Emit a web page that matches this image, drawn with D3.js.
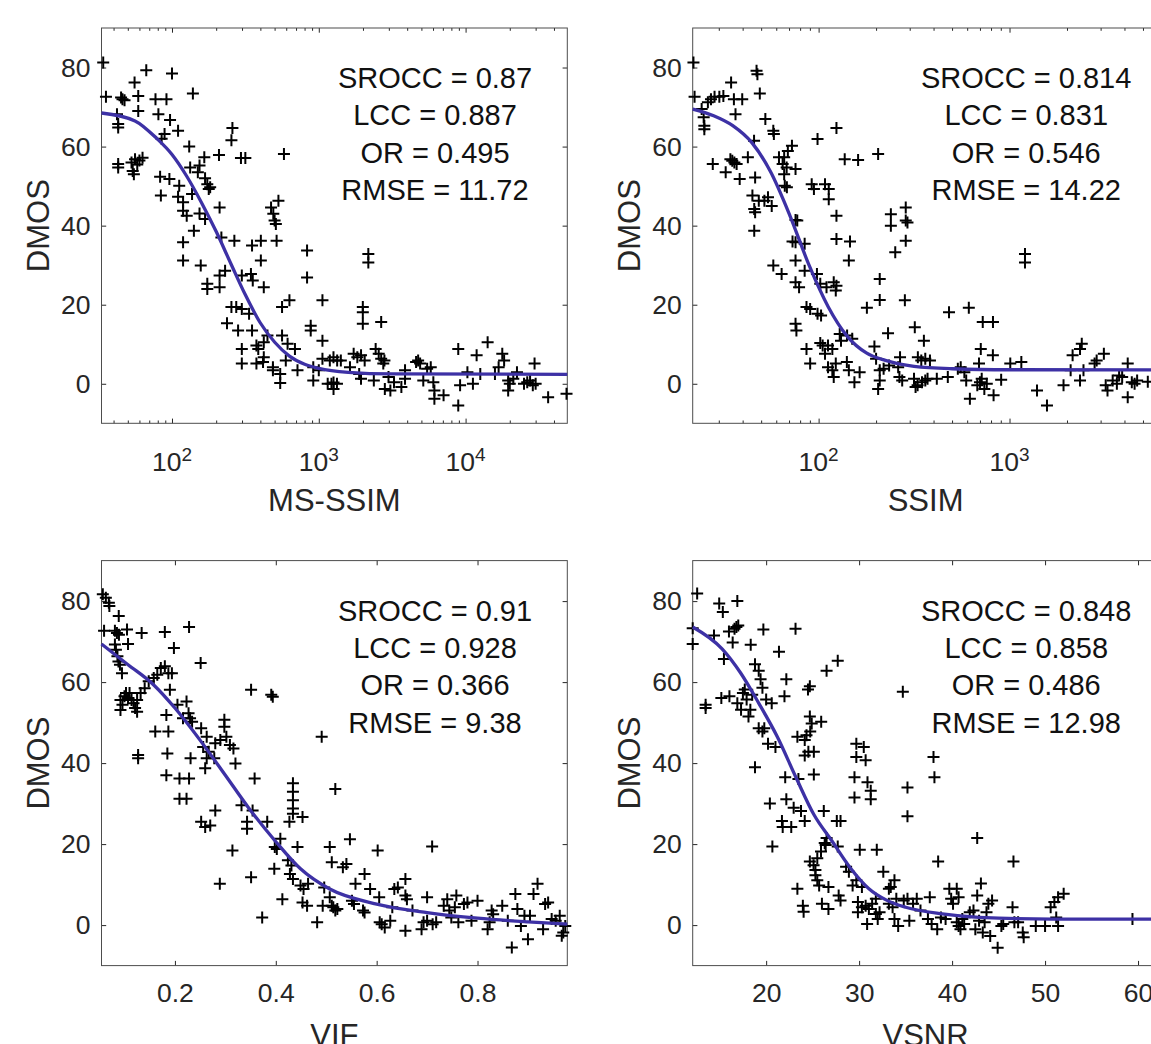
<!DOCTYPE html>
<html><head><meta charset="utf-8">
<script src="https://cdn.jsdelivr.net/npm/d3@7"></script>
<style>body{margin:0;background:#fff}</style>
</head><body>
<svg id="chart" width="1151" height="1044"></svg>
<script>
// ---------------- DATA ----------------
const metricNames = ["MS-SSIM", "SSIM", "VIF", "VSNR"];
const yLabel = "DMOS";
const yTicks = [0, 20, 40, 60, 80];
const statNames = ["SROCC", "LCC", "OR", "RMSE"];
const msssimStats = ["0.87", "0.887", "0.495", "11.72"];
const ssimStats = ["0.814", "0.831", "0.546", "14.22"];
const vifStats = ["0.91", "0.928", "0.366", "9.38"];
const vsnrStats = ["0.848", "0.858", "0.486", "12.98"];

const msssimX = [34,35.5,45,46,47.5,55.6,58.9,66.8,77.2,91.7,100,138.8,42.2,43,43,58.9,80.8,97,89,85,110,131,209,166,258,254,295,316,579,43,43,53,56,58,60,63,55,54,83,96,84,112,110,133,154,150,168,174,178,182,137,119,119,126,154,168,211,141,119,119,157,217,266,351,403,516,403,473,490,500,531,510,174,174,211,211,230,299,345,355,422,254,274,299,335,237,282,351,447,299,376,387,422,299,376,417,422,487,487,546,546,562,613,596,716,688,562,631,832,832,881,881,1059,1059,917,917,1000,1059,1189,1259,1334,1150,1220,1260,1330,1260,1413,1631,1728,1830,1940,2054,1884,1939,1995,1995,1995,2175,2175,2661,2440,2560,2661,2371,2750,2800,2818,3073,3254,2985,3652,3868,3868,4600,4750,4900,5150,5470,5790,6030,6130,6130,7080,8913,8913,9173,10290,11220,11890,14130,12590,15850,17780,18300,16790,19500,19500,20000,21130,22390,25000,26300,27500,28700,29500,30000,36500,48700];
const msssimY = [81.3,72.6,72.4,72,71.7,76.2,72.8,79.3,72,72,78.5,73.4,68.2,65.7,64.8,69,68.2,66.7,63.2,62,64,60,57.9,57.3,64.7,61.6,57.1,57.1,58.1,55.6,54.7,56,56.8,55.5,56.5,57.2,53,53.8,52.4,51.8,47.6,50.1,47.3,54.7,55.2,53.5,52,50.5,49.3,49.7,48,45.9,43.8,42.5,43.1,41.7,44.6,38.7,35.8,31.2,29.9,37,36.2,35,36.2,36.2,31.2,44.6,43,41.3,46.3,40.4,25.3,24,24.4,27.4,28.6,27.4,27.8,26.1,24.4,19.4,19.4,18.9,17.7,15.3,13.5,13.5,12.2,8.8,9.7,8.8,10.5,5.1,5.1,5.5,6.7,4.2,3.4,2.5,0.2,12.2,10.1,5.9,3.4,8.8,19.4,21.1,33.7,26.9,14.7,13.5,21.1,10.9,4.2,0.8,3.4,6.3,5.9,6.7,5.9,0,0,0.3,0,-1.3,5.9,4.2,7.6,6.7,7.2,5.9,2.5,1.3,19.4,18.1,15.2,32.8,30.7,15.6,8.8,7.6,6.3,0.8,5.1,5.9,-1.3,-1.7,0.4,1.7,-0.8,3.4,1.3,5.5,5.9,5.1,0.8,3.8,4.2,0.4,-1.7,-3.8,-2.9,8.8,-5.5,-0.4,2.9,0,7.2,10.5,2.5,2.5,7.6,5.9,4.2,0.8,-1.7,0,1.3,2.9,0,0.4,0.8,-0.4,5.1,0,-3.4,-2.5];
const msssimFitX = [33.1,56,79,100,126,158,200,251,316,398,501,631,794,1000,1585,3162,49300];
const msssimFitY = [68.5,66.5,62,58,52.5,46,38.5,30.5,22.5,15.5,10.5,7,5,3.9,2.9,2.5,2.4];

const ssimX = [22.1,22.4,24.4,25,25.2,25.2,26.3,27.3,28.5,30.2,31.7,34.8,36,39.8,36.7,27.9,32.6,34.5,35.3,36.2,37.2,38.6,42.6,45.9,46.5,47.3,47.8,49.2,52.6,57.9,58.3,45,46,46.5,46,48.6,52,54.3,56.8,62,66,69,72.5,64.8,68,75.7,66,66.5,68.2,57.9,64,75.7,77.3,73,75.7,84.5,75.7,75.7,79,84.5,75.7,76.5,86.4,90.3,98.7,103,86.4,90.3,98,102,110,108,113,113,92,94.5,98.7,124,124,124,120,124,123,137,161,146,144,102,105,112,118,108,112,118,120,123,129,131,141,150,140.6,144,154,164,179,196,200,209,209,205,209,209,219,234,205,231,239,239,252,261,265,274,267,286,286,292,286,283,319,356,316,322,330,331,345,362,383,348,362,372,416,475,482,536,555,580,593,612,620,692,707,678,700,715,738,760,724,819,818,825,904,1009,1153,1205,1205,1393,1571,1918,2090,2140,2340,2390,2340,2440,2790,2860,3120,3190,3260,3470,3650,3750,3890,4160,4160,4370,4520,4660,5300];
const ssimY = [81.3,72.6,69.5,67.4,65.3,64.4,71.2,72,72.6,72.6,72.8,76.2,72,72,68.2,55.6,53.5,56.8,56.4,56,55.6,51.8,57.3,61.5,52.2,79.2,78.3,73.4,67,64,63.2,47.6,44.2,43.4,38.7,46.3,46.3,47.2,45,57.3,57.3,58.9,60.2,55.6,54.7,54.3,53,50.1,49.7,29.9,27.8,41.4,41.3,36,35.8,35.4,31.2,25.7,24.4,28.6,15.2,13.5,19.4,18.9,17.7,17.3,8.8,5.1,27.8,25.3,24.4,50.5,49.3,46.7,50.5,49.3,61.9,64.7,42.5,36.6,25.7,24.8,23.6,56.8,56.6,36,31.2,10.3,9.7,9.7,8.8,7.6,4.2,3.4,1.7,5.1,12.6,10.9,12.2,11.4,5.5,3.4,0.4,2.9,19.2,9.4,6.3,3.4,0.8,-1.3,26.5,21.2,3.8,4.6,58.1,12.8,42.9,40,33.3,4.2,1.7,0.8,6.7,44.6,41.3,40.8,36.2,21.1,14.3,10.9,1.3,-0.8,-0.4,6.7,5.9,6.3,5.9,0.4,0.8,1.3,1.3,1.7,18.1,3.8,4.2,2.9,0.8,19.2,-3.8,5.1,8.8,-0.4,0.4,1.3,-1.3,0,15.6,15.6,7.2,-2.9,1,5.1,5.5,32.8,30.7,-1.7,-5.5,-0.4,3.4,7.2,8.8,10.1,0.8,3.4,5.1,5.9,7.6,-0.4,-1.7,0.8,0,2.1,1.7,5.1,-3.4,0.4,0,0.8,0.5];
const ssimFitX = [21.9,28.2,35.5,44.7,56.2,70.8,89.1,112.2,141.3,177.8,223.9,316.2,501.2,1000,6030];
const ssimFitY = [69.5,67.8,65.3,61,53.5,42.5,30,19.5,12,7.8,5.9,4.4,3.8,3.55,3.5];

const vifX = [0.057,0.063,0.069,0.070,0.0595,0.0886,0.081,0.085,0.089,0.105,0.107,0.134,0.081,0.083,0.086,0.088,0.091,0.095,0.18,0.228,0.198,0.251,0.092,0.096,0.1,0.103,0.107,0.11,0.114,0.118,0.121,0.125,0.092,0.125,0.132,0.14,0.148,0.158,0.165,0.172,0.18,0.187,0.194,0.19,0.183,0.205,0.216,0.223,0.227,0.23,0.234,0.161,0.187,0.185,0.127,0.127,0.183,0.209,0.228,0.209,0.223,0.231,0.252,0.263,0.256,0.267,0.263,0.278,0.26,0.28,0.29,0.298,0.298,0.302,0.309,0.316,0.32,0.252,0.26,0.27,0.28,0.314,0.289,0.332,0.343,0.343,0.354,0.351,0.391,0.394,0.358,0.383,0.351,0.373,0.409,0.398,0.402,0.397,0.413,0.427,0.434,0.434,0.434,0.434,0.434,0.424,0.431,0.428,0.434,0.443,0.453,0.449,0.455,0.464,0.453,0.462,0.482,0.491,0.496,0.493,0.507,0.511,0.507,0.514,0.518,0.522,0.511,0.518,0.533,0.54,0.547,0.551,0.555,0.558,0.573,0.576,0.576,0.587,0.602,0.605,0.606,0.61,0.616,0.627,0.631,0.635,0.642,0.657,0.657,0.66,0.657,0.671,0.689,0.693,0.7,0.7,0.71,0.711,0.718,0.733,0.74,0.744,0.755,0.758,0.748,0.762,0.773,0.78,0.8,0.788,0.82,0.824,0.828,0.831,0.849,0.86,0.868,0.875,0.879,0.886,0.893,0.9,0.904,0.911,0.919,0.93,0.934,0.94,0.947,0.955,0.963,0.967,0.97,0.974];
const vifY = [81.7,80.8,79.6,78.8,72.7,76.3,72.7,72.1,71.7,73,69.4,72.1,69.3,68,66.4,65.1,64.3,62.2,72.4,73.6,68.4,64.7,55.6,54.4,56.5,57.3,56.1,57.3,55.6,54.8,53.6,55.6,53.1,52.7,57.3,58.5,60.2,61,61.8,63.5,63.9,62.2,62.2,58.1,51.9,54.4,51.1,55.2,52.3,51.1,50.2,47.8,47.8,42.4,42,41.2,37,36.2,36.2,31.2,31.2,41.2,48.6,46.5,44,42.8,41.2,41.2,38.7,44.9,45.7,50.7,49,46.5,44.5,43.6,39.9,25.5,24.2,24.6,28.3,18.4,10.2,29.6,25.5,23.8,28.3,58.1,56.9,56.4,36.2,25.5,11.8,1.9,21.3,19.3,18.8,13.9,6.4,25.5,35,32.9,30.8,28.8,27.5,16,14.7,12.6,11.4,19.3,26.7,9.8,8.9,10.2,5.6,4.8,0.7,46.5,9.3,4.8,19.3,15.5,6.9,4.4,3.6,4,4.8,33.6,14.3,15.1,21.2,6,5.2,10.2,3.6,3.1,12.6,8.9,18.4,6.9,0.7,0.2,-0.6,1.1,4.4,8.9,9.3,11.4,7.3,6.4,-1.4,3.6,-1,0.7,1.1,6.9,19.4,0.2,0.7,4.8,6.4,3.6,4.4,7.3,1.9,0.7,5.2,5.6,6,1.1,-1,0.7,3.6,2.7,4.8,1.1,-5.5,7.7,4,-0.2,2.3,-3.5,2.3,7.7,10.2,-1,5.2,5.6,1.5,1.1,2.3,-2.6,-1.8,-0.2];
const vifFitX = [0.0544,0.107,0.158,0.2,0.252,0.3,0.347,0.398,0.449,0.507,0.6,0.7,0.8,0.9,0.978];
const vifFitY = [69.4,64.3,59.3,53.6,45.3,37,28.8,20.9,13.9,8.9,5.2,3.1,1.7,0.8,0.25];

const vsnrX = [12.58,12.1,12.1,13.49,13.49,14.39,14.95,15.34,16.0,16.4,16.6,16.8,17.0,15.46,16.9,15.18,16.05,16.9,17.3,17.5,17.7,17.9,18.1,18.3,18.5,18.34,18.8,19.2,19.4,19.6,20.0,18.8,19.7,19.2,19.6,19.8,20.2,21.0,20.6,21.38,21.97,22.17,20.4,20.67,22.05,22.17,21.7,21.78,22.7,22.96,23.75,24.15,23.16,23.36,24.15,24.34,23.47,24.15,24.54,25.13,24.74,24.9,24.7,24.5,24.7,25.13,25.92,26.5,27.7,23.36,23.95,24.03,24.7,25.1,25.3,25.3,25.5,25.7,25.5,25.9,26.3,26.5,26.2,26.4,26.7,26.0,26.7,27.6,28.0,27.7,27.8,28.0,28.6,28.9,29.3,29.7,30.3,29.5,29.5,29.7,29.7,30.5,30.7,30.9,31.25,31.25,30.07,29.87,29.87,30.3,30.7,31.05,31.4,31.8,30.86,31.8,32.0,32.2,31.9,32.6,33.2,33.4,33.8,33.2,33.6,34.0,33.8,34.2,34.8,35.2,35.8,36.2,34.7,35.2,35.2,35.4,36.6,37.6,37.4,38.0,38.1,37.8,38.4,38.5,38.8,39.3,39.7,39.9,40.1,40.5,40.7,40.5,40.7,40.9,41.1,41.3,41.9,42.3,42.5,42.7,42.9,43.1,42.7,43.3,43.5,43.7,43.9,44.1,44.3,44.9,45.3,45.5,46.5,46.7,47.1,46.6,47.6,47.7,49.0,50.0,50.6,51.0,51.4,52.0,51.2,51.4,59.4];
const vsnrY = [81.9,73.3,69.4,54.4,53.6,71.5,79.4,77.3,72.5,69.8,73.2,73.6,74,65.7,80,56.1,56.5,54.8,53.2,57.3,58.2,55.7,51.5,53.2,56.9,69.2,64.4,62.8,60.7,58.6,55.7,39,73,48.6,47.8,48.6,44.8,44,54.8,67.5,56.5,60.7,30,19.4,36.5,31.1,25.7,24.2,24.2,29,28.2,25.7,73.2,46.5,45.7,46.9,36.1,41.9,42.8,42.8,47.8,49.8,51.5,58.2,59,37.2,50.2,62.8,65.3,9,4.8,3.3,15.7,14.8,13.6,12.3,11.1,9.8,16.5,18.2,20.3,21.5,28.2,19.8,9.4,5.3,4,25.7,25.7,19.4,7.3,6.1,14.4,13.2,9.8,11.1,9.4,36.5,31.5,44.8,41.5,44,40.7,35.3,33.2,31.1,18.6,5.7,3.2,4.4,4.8,4,5.3,6.5,0.25,2.75,1.5,3.2,18.6,13.2,9,9.4,11.1,5.3,4.4,6.5,1.5,-0.2,6.1,6.5,5.3,6.5,57.6,34,26.9,1.1,3.6,6.9,1.5,41.5,36.5,0.25,-1,15.7,1.9,1.5,9,6.5,5.3,9,6.9,0.7,-0.2,-1,1.5,0.25,3.2,3.6,-1,7.3,1.1,10.25,21.5,-1.8,0.7,3.2,5.3,-2.7,6.1,-5.6,-0.2,0.25,4.4,0.7,0.7,15.7,-1.8,-3,-0.2,-0.2,4.4,5.7,6.9,7.75,1.9,-0.2,1.5];
const vsnrFitX = [12.1,15.26,17.24,19.2,21.2,23.2,25.13,27.1,29.1,31.05,33,35,38.95,42.9,50.8,62.2];
const vsnrFitY = [73.6,68.2,62.3,54.8,46.5,36.5,27.3,20.7,14,9,6.1,4.4,2.75,1.9,1.5,1.5];

const msssimDomain = [33.1, 49300];
const ssimDomain = [21.9, 6030];
const vifDomain = [0.0544, 0.978];
const vsnrDomain = [12.1, 62.2];
const yDomain = [-10, 90];
const vifTicks = [0.2, 0.4, 0.6, 0.8];
const vsnrTicks = [20, 30, 40, 50, 60];

// ---------------- LAYOUT ----------------
const svg = d3.select("#chart");
svg.append("rect").attr("width", 1151).attr("height", 1044).attr("fill", "#fff");
const FONT = "'Liberation Sans', Arial, Helvetica, sans-serif";
const AX = "#262626";
const BOX = "#4d4d4d";
const cols = [{l: 101.5, r: 567.3}, {l: 692.7, r: 1158.5}];
const rows = [{t: 28, b: 423.3}, {t: 560.6, b: 965.6}];
const TL = 4.7, TLm = 2.8;

function logMinor(dom) {
  const out = [];
  for (let e = Math.floor(Math.log10(dom[0])); e <= Math.ceil(Math.log10(dom[1])); e++) {
    for (let m = 2; m <= 9; m++) { const v = m * Math.pow(10, e); if (v > dom[0] && v < dom[1]) out.push(v); }
  }
  return out;
}
function logMajor(dom) {
  const out = [];
  for (let e = Math.ceil(Math.log10(dom[0])); e <= Math.floor(Math.log10(dom[1])); e++) out.push(Math.pow(10, e));
  return out;
}

const panels = [
  {name: metricNames[0], xs: msssimX, ys: msssimY, fx: msssimFitX, fy: msssimFitY, dom: msssimDomain, log: true, stats: msssimStats, c: 0, r: 0},
  {name: metricNames[1], xs: ssimX, ys: ssimY, fx: ssimFitX, fy: ssimFitY, dom: ssimDomain, log: true, stats: ssimStats, c: 1, r: 0},
  {name: metricNames[2], xs: vifX, ys: vifY, fx: vifFitX, fy: vifFitY, dom: vifDomain, log: false, ticks: vifTicks, stats: vifStats, c: 0, r: 1},
  {name: metricNames[3], xs: vsnrX, ys: vsnrY, fx: vsnrFitX, fy: vsnrFitY, dom: vsnrDomain, log: false, ticks: vsnrTicks, stats: vsnrStats, c: 1, r: 1}
];

panels.forEach(p => {
  const L = cols[p.c].l, R = cols[p.c].r, T = rows[p.r].t, B = rows[p.r].b;
  const x = (p.log ? d3.scaleLog() : d3.scaleLinear()).domain(p.dom).range([L, R]);
  const y = d3.scaleLinear().domain(yDomain).range([B, T]);
  const g = svg.append("g");
  const major = p.log ? logMajor(p.dom) : p.ticks;

  function styleAxis(sel) {
    sel.select(".domain").remove();
    sel.selectAll(".tick line").attr("stroke", AX).attr("stroke-width", 1);
    sel.selectAll("text").attr("font-family", FONT).attr("fill", AX).attr("font-size", 26.5);
  }
  g.append("g").attr("transform", `translate(0,${B})`)
    .call(d3.axisBottom(x).tickValues(major).tickSizeInner(-TL).tickSizeOuter(0).tickPadding(17.5)
      .tickFormat(p.log ? () => "" : d3.format(".1~f")))
    .call(styleAxis);
  g.append("g").attr("transform", `translate(0,${T})`)
    .call(d3.axisTop(x).tickValues(major).tickSizeInner(-TL).tickSizeOuter(0).tickFormat(""))
    .call(styleAxis);
  if (p.log) {
    const minor = logMinor(p.dom);
    g.append("g").attr("transform", `translate(0,${B})`)
      .call(d3.axisBottom(x).tickValues(minor).tickSizeInner(-TLm).tickSizeOuter(0).tickFormat(""))
      .call(styleAxis);
    g.append("g").attr("transform", `translate(0,${T})`)
      .call(d3.axisTop(x).tickValues(minor).tickSizeInner(-TLm).tickSizeOuter(0).tickFormat(""))
      .call(styleAxis);
    major.forEach(v => {
      const t = g.append("text").attr("x", x(v)).attr("y", B + 48).attr("text-anchor", "middle")
        .attr("font-family", FONT).attr("font-size", 26.5).attr("fill", AX);
      t.append("tspan").text("10");
      t.append("tspan").attr("font-size", 19).attr("dy", -10).text(String(Math.round(Math.log10(v))));
    });
  }
  g.append("g").attr("transform", `translate(${L},0)`)
    .call(d3.axisLeft(y).tickValues(yTicks).tickSizeInner(-TL).tickSizeOuter(0).tickPadding(11))
    .call(styleAxis);
  g.append("g").attr("transform", `translate(${R},0)`)
    .call(d3.axisRight(y).tickValues(yTicks).tickSizeInner(-TL).tickSizeOuter(0).tickFormat(""))
    .call(styleAxis);
  g.append("rect").attr("x", L).attr("y", T).attr("width", R - L).attr("height", B - T)
    .attr("fill", "none").attr("stroke", BOX).attr("stroke-width", 1);

  g.append("text").attr("x", (L + R) / 2).attr("y", B + (p.log ? 88 : 80)).attr("text-anchor", "middle")
    .attr("font-family", FONT).attr("font-size", 31).attr("fill", AX).text(p.name);
  g.append("text").attr("transform", `translate(${L - 63.5},${(T + B) / 2}) rotate(-90)`)
    .attr("text-anchor", "middle").attr("dy", "0.36em")
    .attr("font-family", FONT).attr("font-size", 31).attr("fill", AX).text(yLabel);

  const pts = p.xs.map((v, i) => [v, p.ys[i]]);
  g.append("g").selectAll("path").data(pts).join("path")
    .attr("transform", d => `translate(${x(d[0])},${y(d[1])})`)
    .attr("d", "M-6,0H6M0,-6V6")
    .attr("stroke", "#000").attr("stroke-width", 2).attr("fill", "none");

  const fit = p.fx.map((v, i) => [v, p.fy[i]]);
  g.append("path").datum(fit)
    .attr("d", d3.line().x(d => x(d[0])).y(d => y(d[1])).curve(d3.curveMonotoneX))
    .attr("fill", "none").attr("stroke", "#3d31a5").attr("stroke-width", 3.3);

  const cx = L + 333.5;
  const ty = g.append("text").attr("text-anchor", "middle").attr("font-family", FONT)
    .attr("font-size", 29).attr("fill", "#111");
  statNames.forEach((s, i) => {
    ty.append("tspan").attr("x", cx).attr("y", T + 60 + i * 37.4).text(`${s} = ${p.stats[i]}`);
  });
});
</script>
</body></html>
